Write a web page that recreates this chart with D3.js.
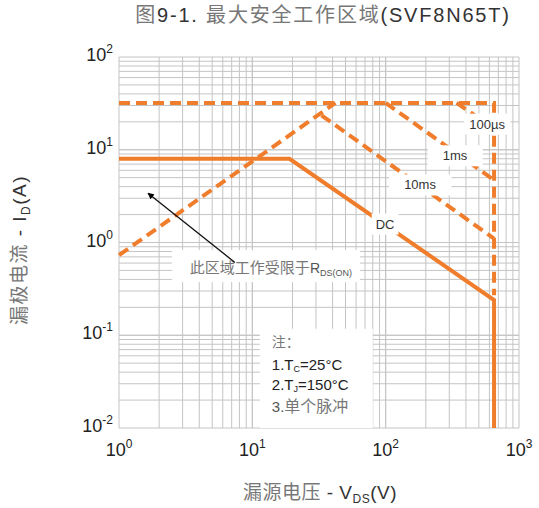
<!DOCTYPE html>
<html lang="zh">
<head>
<meta charset="UTF-8">
<title>SOA SVF8N65T</title>
<script src="https://d3js.org/d3.v7.min.js"></script>
<style>
    body { margin: 0; background: #fff; }
    svg text { font-family: "Liberation Sans", Arial, "Noto Sans CJK SC", sans-serif; }
    .grid line { stroke: #c4c4c4; stroke-width: 1; }
    .soa { fill: none; stroke: #f07d2c; stroke-width: 4; }
    .dash { stroke-dasharray: 11, 6; }
    .cjk { font-family: "Noto Sans CJK SC", sans-serif; fill: #777; }
</style>
</head>
<body>
<svg id="chart" width="539" height="508"></svg>
<script>
    // curve data (V in volts, I in amps)
    const dcV = [1, 19, 650, 650];
    const dcI = [8, 8, 0.24, 0.01];
    const limitV = [1, 650, 650];          // pulsed current limit + voltage limit
    const limitI = [32, 32, 0.27];
    const rdsV = [1, 42];
    const rdsI = [0.73, 32];
    const ms10V = [33, 650];
    const ms10I = [23.5, 1.1];
    const ms1V = [100, 650];
    const ms1I = [32, 4.7];
    const us100V = [340, 650];
    const us100I = [32, 17];

    const xTicks = [1, 10, 100, 1000];
    const xTickExp = ["0", "1", "2", "3"];
    const yTicks = [100, 10, 1, 0.1, 0.01];
    const yTickExp = ["2", "1", "0", "-1", "-2"];

    const curveLabels = ["100µs", "1ms", "10ms", "DC"];
    const curveLabelV = [576, 331, 181, 99];
    const curveLabelI = [18.9, 8.6, 4.17, 1.58];

    const margin = { top: 57, left: 119 };
    const width = 400, height = 371;

    const svg = d3.select("#chart");
    const g = svg.append("g")
        .attr("transform", "translate(" + margin.left + "," + margin.top + ")");

    const x = d3.scaleLog().domain([1, 1000]).range([0, width]);
    const y = d3.scaleLog().domain([0.01, 100]).range([height, 0]);

    // log grid: every 1..9 per decade
    const gridX = [], gridY = [];
    for (let e = 0; e < 3; e++) for (let k = 1; k <= 10; k++) gridX.push(k * Math.pow(10, e));
    for (let e = -2; e < 2; e++) for (let k = 1; k <= 10; k++) gridY.push(k * Math.pow(10, e));

    const grid = g.append("g").attr("class", "grid");
    grid.selectAll(".gx").data(gridX).enter().append("line")
        .attr("x1", d => x(d)).attr("x2", d => x(d))
        .attr("y1", 0).attr("y2", height);
    grid.selectAll(".gy").data(gridY).enter().append("line")
        .attr("y1", d => y(d)).attr("y2", d => y(d))
        .attr("x1", 0).attr("x2", width);

    const rdsPos = { v: 3.4, i: 0.53 };
    const notePos = { v: 14, i: 0.083 };

    const line = d3.line().x(d => x(d[0])).y(d => y(d[1]));
    function draw(vs, is, dashed) {
        g.append("path")
            .datum(d3.zip(vs, is))
            .attr("class", "soa" + (dashed ? " dash" : ""))
            .attr("d", line);
    }
    draw(limitV, limitI, true);
    draw(rdsV, rdsI, true);
    draw(ms10V, ms10I, true);
    draw(ms1V, ms1I, true);
    draw(us100V, us100I, true);
    draw(dcV, dcI, false);

    // curve labels with white background
    curveLabels.forEach((t, k) => {
        const lg = g.append("g");
        const txt = lg.append("text")
            .attr("x", x(curveLabelV[k])).attr("y", y(curveLabelI[k]))
            .attr("text-anchor", "middle").attr("dominant-baseline", "central")
            .attr("font-size", 13).attr("fill", "#333").text(t);
        const b = txt.node().getBBox();
        const px = k === 3 ? 4 : (k === 0 ? 5 : 15);
        lg.insert("rect", "text")
            .attr("x", b.x - px).attr("y", b.y - 3)
            .attr("width", b.width + 2 * px).attr("height", b.height + 6)
            .attr("fill", "#fff");
    });

    // R_DS(on) annotation
    const rg = g.append("g");
    const rt = rg.append("text")
        .attr("x", x(rdsPos.v)).attr("y", y(rdsPos.i) + 5)
        .attr("font-size", 15);
    rt.append("tspan").attr("class", "cjk").text("此区域工作受限于");
    rt.append("tspan").attr("fill", "#555").attr("font-size", 14).text("R");
    rt.append("tspan").attr("fill", "#555").attr("font-size", 9).attr("dy", 3).text("DS(ON)");
    const rb = rt.node().getBBox();
    rg.insert("rect", "text")
        .attr("x", rb.x - 18).attr("y", rb.y - 6)
        .attr("width", rb.width + 26).attr("height", rb.height + 10)
        .attr("fill", "#fff");

    // arrow toward the R_DS(on) limited region
    svg.append("defs").append("marker")
        .attr("id", "head").attr("viewBox", "0 0 10 10")
        .attr("refX", 9).attr("refY", 5)
        .attr("markerWidth", 5).attr("markerHeight", 5)
        .attr("orient", "auto")
        .append("path").attr("d", "M0,0L10,5L0,10z").attr("fill", "#000");
    g.append("line")
        .attr("x1", x(7.4)).attr("y1", y(0.61))
        .attr("x2", x(1.65)).attr("y2", y(3.4))
        .attr("stroke", "#111").attr("stroke-width", 1.3)
        .attr("marker-end", "url(#head)");

    // notes box
    const ng = g.append("g");
    const nx = x(notePos.v), ny = y(notePos.i);
    ng.append("rect")
        .attr("x", nx - 12).attr("y", ny - 14)
        .attr("width", 113).attr("height", height - (ny - 14))
        .attr("fill", "#fff");
    ng.append("text").attr("class", "cjk").attr("x", nx).attr("y", ny + 4)
        .attr("font-size", 14).text("注：");
    const n1 = ng.append("text").attr("x", nx).attr("y", ny + 27)
        .attr("font-size", 15).attr("fill", "#222");
    n1.append("tspan").text("1.T");
    n1.append("tspan").attr("font-size", 9).attr("dy", 2).text("C");
    n1.append("tspan").attr("dy", -2).text("=25°C");
    const n2 = ng.append("text").attr("x", nx).attr("y", ny + 47)
        .attr("font-size", 15).attr("fill", "#222");
    n2.append("tspan").text("2.T");
    n2.append("tspan").attr("font-size", 9).attr("dy", 2).text("J");
    n2.append("tspan").attr("dy", -2).text("=150°C");
    const n3 = ng.append("text").attr("x", nx).attr("y", ny + 69)
        .attr("font-size", 15);
    n3.append("tspan").attr("fill", "#555").text("3.");
    n3.append("tspan").attr("class", "cjk").attr("font-size", 16).text("单个脉冲");

    // tick labels
    xTicks.forEach((v, k) => {
        const t = g.append("text")
            .attr("x", x(v)).attr("y", height + 28)
            .attr("text-anchor", "middle").attr("font-size", 18).attr("fill", "#222");
        t.append("tspan").text("10");
        t.append("tspan").attr("font-size", 12).attr("dy", -8).text(xTickExp[k]);
    });
    yTicks.forEach((v, k) => {
        const t = g.append("text")
            .attr("x", -6).attr("y", y(v) + 4)
            .attr("text-anchor", "end").attr("font-size", 18).attr("fill", "#222");
        t.append("tspan").text("10");
        t.append("tspan").attr("font-size", 12).attr("dy", -8).text(yTickExp[k]);
    });

    // title
    const title = svg.append("text")
        .attr("x", 323).attr("y", 22)
        .attr("text-anchor", "middle").attr("font-size", 20)
        .attr("letter-spacing", 1.8);
    title.append("tspan").attr("class", "cjk").text("图");
    title.append("tspan").attr("fill", "#333").text("9-1. ");
    title.append("tspan").attr("class", "cjk").text("最大安全工作区域");
    title.append("tspan").attr("fill", "#333").text("(SVF8N65T)");

    // axis titles
    const xt = svg.append("text")
        .attr("x", 320).attr("y", 499)
        .attr("text-anchor", "middle").attr("font-size", 19)
        .attr("letter-spacing", 0.5);
    xt.append("tspan").attr("class", "cjk").text("漏源电压");
    xt.append("tspan").attr("fill", "#333").text(" - V");
    xt.append("tspan").attr("fill", "#333").attr("font-size", 12).attr("dy", 4).text("DS");
    xt.append("tspan").attr("fill", "#333").attr("dy", -4).text("(V)");

    const yt = svg.append("text")
        .attr("transform", "translate(26,250) rotate(-90)")
        .attr("text-anchor", "middle").attr("font-size", 19)
        .attr("letter-spacing", 1.5);
    yt.append("tspan").attr("class", "cjk").text("漏极电流");
    yt.append("tspan").attr("fill", "#333").text(" - I");
    yt.append("tspan").attr("fill", "#333").attr("font-size", 12).attr("dy", 4).text("D");
    yt.append("tspan").attr("fill", "#333").attr("dy", -4).text("(A)");
</script>
</body>
</html>
